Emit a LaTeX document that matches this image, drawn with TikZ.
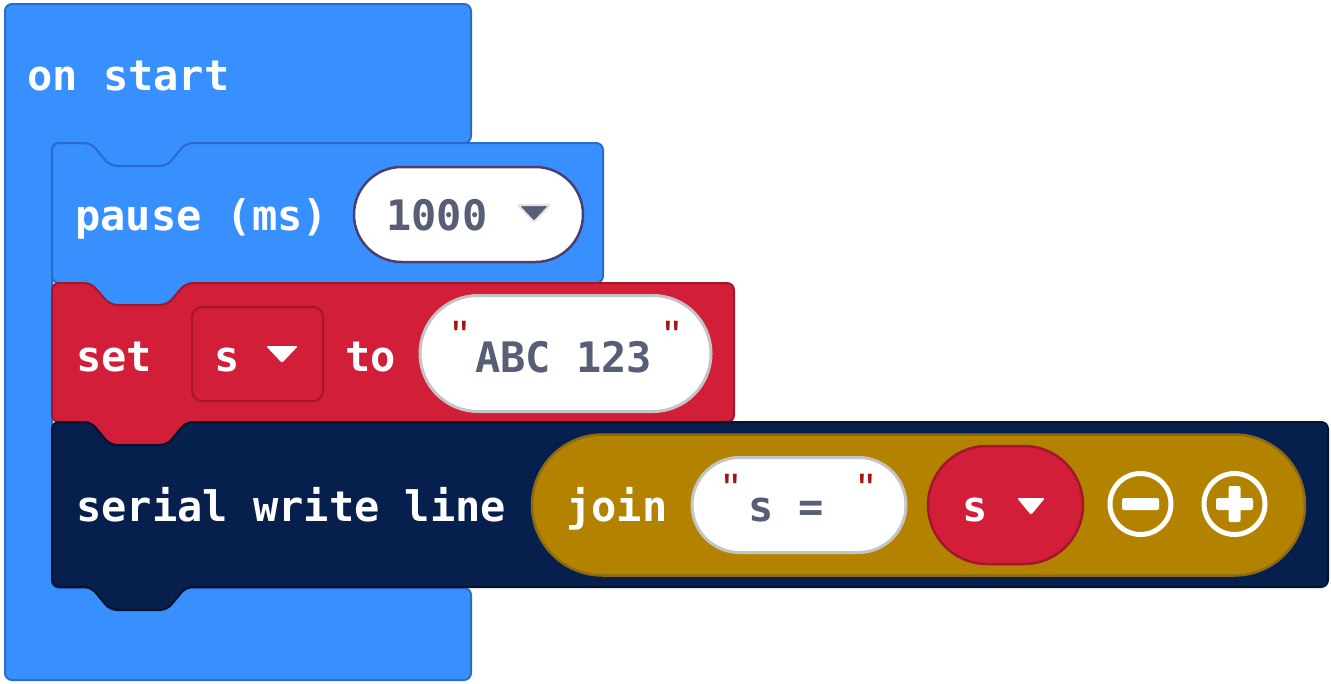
\documentclass[tikz,border=0pt]{standalone}
\usepackage{fontspec}
\newfontfamily\blkfont{DejaVu Sans Mono}
\newfontfamily\qfont{Liberation Sans}
\usetikzlibrary{shapes.misc}
\definecolor{bblue}{HTML}{3890FF}
\definecolor{bbluedk}{HTML}{2A6CCB}
\definecolor{bred}{HTML}{D21E38}
\definecolor{breddk}{HTML}{A3172C}
\definecolor{bnavy}{HTML}{071F4D}
\definecolor{bnavydk}{HTML}{03132F}
\definecolor{bgold}{HTML}{B38300}
\definecolor{bgolddk}{HTML}{8A6A14}
\definecolor{txtdk}{HTML}{575E75}
\definecolor{qred}{HTML}{A31515}
\definecolor{pillgrey}{HTML}{C4C4C4}
\definecolor{pillpurple}{HTML}{4B3F72}
\definecolor{trigrey}{HTML}{E4E4E4}
\tikzset{
  blk/.style={line width=2pt, rounded corners=7pt, line join=round},
  lbl/.style={anchor=base west, inner sep=0pt, text=white, font=\blkfont\bfseries\fontsize{42}{50}\selectfont},
  dlbl/.style={lbl, text=txtdk},
  qmark/.style={anchor=base, inner sep=0pt, text=qred, font=\qfont\fontsize{44}{50}\selectfont},
  pillshape/.style={rounded rectangle, inner sep=0pt},
  strpill/.style={pillshape, fill=white, draw=pillgrey, line width=3pt},
  icon/.style={draw=white, line width=5pt},
}
\begin{document}
\begin{tikzpicture}[x=1pt, y=-1pt]
\useasboundingbox (0,0) rectangle (1331,683);
% on start (C block)
\draw[blk, fill=bblue, draw=bbluedk] (5,40) -- (5,4) -- (471,4) -- (471,143) -- (186,143) -- (167,166) -- (110,166) -- (91,143) -- (52,143) -- (52,588) -- (471,588) -- (471,680) -- (5,680) -- cycle;
% pause block
\draw[blk, fill=bblue, draw=bbluedk] (52,170) -- (52,143) -- (91,143) -- (110,166) -- (167,166) -- (186,143) -- (603,143) -- (603,283) -- (186,283) -- (167,305) -- (110,305) -- (91,283) -- (52,283) -- cycle;
% set block
\draw[blk, fill=bred, draw=breddk] (52,310) -- (52,283) -- (91,283) -- (110,305) -- (167,305) -- (186,283) -- (734,283) -- (734,422) -- (186,422) -- (167,445) -- (110,445) -- (91,422) -- (52,422) -- cycle;
% serial block
\draw[blk, fill=bnavy, draw=bnavydk] (52,450) -- (52,422) -- (91,422) -- (110,445) -- (167,445) -- (186,422) -- (1328,422) -- (1328,587) -- (186,587) -- (167,610) -- (110,610) -- (91,587) -- (52,587) -- cycle;

% labels
\node[lbl] (onstart) at (27,90) {on start};
\node[lbl] (pause) at (75,230) {pause (ms)};
\node[pillshape, fill=white, draw=pillpurple, line width=2.5pt, minimum width=229pt, minimum height=95pt] (num) at (468.5,214.5) {};
\node[dlbl] (numtxt) at (386,230) {1000};
\filldraw[fill=txtdk, draw=trigrey, line width=2pt, rounded corners=2pt] (518,205) -- (550,205) -- (534,222) -- cycle;

\node[lbl] (set) at (76,371) {set};
\draw[fill=bred, draw=breddk, line width=2pt, rounded corners=10pt] (192,307) rectangle (323,401);
\node[lbl] (setvar) at (214,371) {s};
\fill[white, rounded corners=2pt] (266,346) -- (298,346) -- (282,363) -- cycle;
\node[lbl] (to) at (345,371) {to};
\node[strpill, minimum width=291pt, minimum height=116pt] (abc) at (565.5,353.5) {};
\node[qmark] (q1) at (460,351.5) {"};
\node[qmark] (q2) at (672,351.5) {"};
\node[dlbl] (abctxt) at (475,372) {ABC 123};

\node[lbl] (serial) at (76,521) {serial write line};
\node[pillshape, fill=bgold, draw=bgolddk, line width=2.5pt, minimum width=773pt, minimum height=141pt] (joinpill) at (918.5,505) {};
\node[lbl] (join) at (566,521) {join};
\node[strpill, minimum width=214pt, minimum height=95pt] (seq) at (799,505) {};
\node[qmark] (q3) at (731.5,504.5) {"};
\node[qmark] (q4) at (866.5,504.5) {"};
\node[dlbl] (seqtxt) at (748,521) {s = };
\node[pillshape, fill=bred, draw=breddk, line width=2.5pt, minimum width=155pt, minimum height=118pt] (varpill) at (1005.5,505) {};
\node[lbl] (vartxt) at (962,521) {s};
\fill[white, rounded corners=2pt] (1017,498) -- (1045,498) -- (1031,515) -- cycle;

% minus / plus
\draw[icon] (1140.5,504) circle (30.5pt);
\fill[white, rounded corners=2pt] (1122,498) rectangle (1159,510);
\draw[icon] (1234.5,504) circle (30.5pt);
\fill[white, rounded corners=2pt] (1216,498) rectangle (1253,510);
\fill[white, rounded corners=2pt] (1228.5,486) rectangle (1240.5,522);
\end{tikzpicture}
\end{document}
